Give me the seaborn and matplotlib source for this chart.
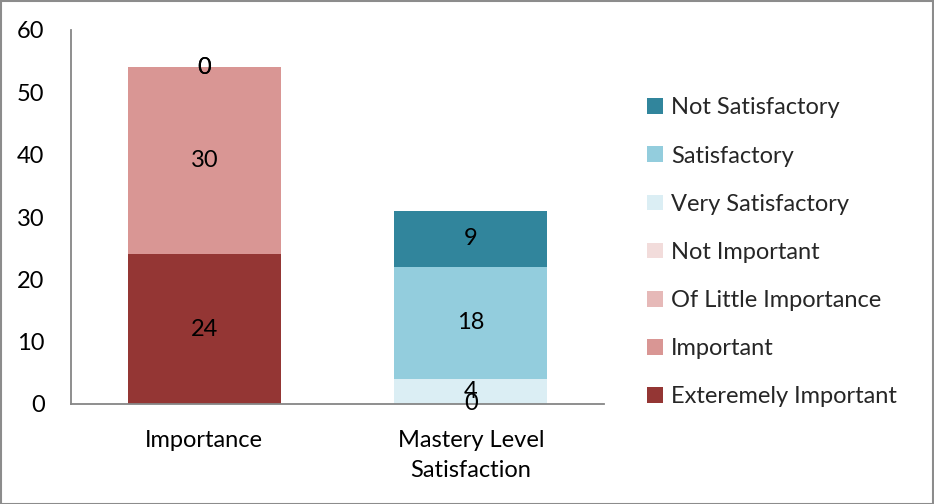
import numpy as np
import pandas as pd
import matplotlib
matplotlib.use("Agg")
import matplotlib.pyplot as plt
from matplotlib.patches import Patch, Rectangle
import seaborn as sns

categories = ["Importance", "Mastery Level\nSatisfaction"]

# stacking order, bottom to top (NaN = series absent for that category)
series_names = [
    "Exteremely Important",
    "Important",
    "Of Little Importance",
    "Not Important",
    "Very Satisfactory",
    "Satisfactory",
    "Not Satisfactory",
]
extremely_important = [24, np.nan]
important = [30, np.nan]
of_little_importance = [0, np.nan]
not_important = [0, 0]
very_satisfactory = [np.nan, 4]
satisfactory = [np.nan, 18]
not_satisfactory = [np.nan, 9]

series_colors = ["#943634", "#D99694", "#E6B9B8", "#F2DCDB",
                 "#DBEEF4", "#93CDDD", "#31859C"]

values = pd.DataFrame(
    [extremely_important, important, of_little_importance, not_important,
     very_satisfactory, satisfactory, not_satisfactory],
    index=series_names, columns=categories,
)

sns.set_theme(style="white")
plt.rcParams["font.family"] = ["Lato", "DejaVu Sans"]
FS = 17

fig = plt.figure(figsize=(9.34, 5.04), dpi=100)
ax = fig.add_axes([71 / 934, 1 - 404 / 504, 533 / 934, 374 / 504])

filled = values.fillna(0)
tops = filled.cumsum(axis=0)
bottoms = tops - filled

# draw cumulative totals from the top segment down so each layer shows its share
for name, color in reversed(list(zip(series_names, series_colors))):
    df = pd.DataFrame({"category": categories, "top": tops.loc[name].values})
    sns.barplot(data=df, x="category", y="top", color=color, width=0.573,
                saturation=1, ax=ax, linewidth=0, order=categories)

# segment labels
for name in series_names:
    for i, cat in enumerate(categories):
        v = values.loc[name, cat]
        if np.isnan(v):
            continue
        y = bottoms.loc[name, cat] + v / 2
        ax.text(i, y, f"{int(v)}", ha="center", va="center",
                fontsize=FS, color="black")

ax.set_xlim(-0.5, 1.5)
ax.set_ylim(0, 60)
ax.set_yticks(range(0, 61, 10))
ax.set_xlabel("")
ax.set_ylabel("")
for s in ["top", "right"]:
    ax.spines[s].set_visible(False)
for s in ["left", "bottom"]:
    ax.spines[s].set_color("#868686")
    ax.spines[s].set_linewidth(1.3)
ax.tick_params(axis="y", length=0, pad=19, labelsize=FS, colors="black")
ax.tick_params(axis="x", length=0, pad=19, labelsize=FS, colors="black")
for lbl in ax.get_xticklabels():
    lbl.set_linespacing(1.5)
    lbl.set_verticalalignment("top")

handles = [Patch(facecolor=c, edgecolor="none", label=n)
           for n, c in zip(series_names, series_colors)][::-1]
fig.legend(handles=handles, loc="upper left",
           bbox_to_anchor=(638 / 934, 1 - 88 / 504), frameon=False,
           fontsize=FS, handlelength=0.65, handleheight=0.65,
           handletextpad=0.35, labelspacing=1.15, borderaxespad=0)

fig.patches.append(Rectangle((0.5 / 934, 0.5 / 504), 1 - 1.5 / 934, 1 - 1.5 / 504,
                             transform=fig.transFigure, fill=False,
                             edgecolor="#8c8c8c", linewidth=1.5))

fig.savefig("out.png", dpi=100)
